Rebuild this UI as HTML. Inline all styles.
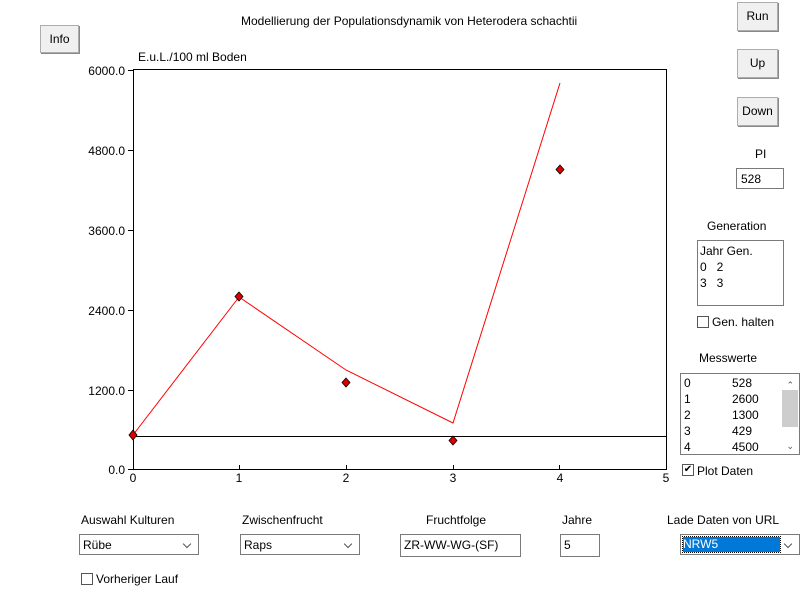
<!DOCTYPE html>
<html><head><meta charset="utf-8"><style>
body{margin:0;width:800px;height:600px;background:#fff;position:relative;overflow:hidden;font-family:"Liberation Sans",Arial,sans-serif;font-size:12px;color:#000}
.a{position:absolute;white-space:nowrap}
.btn{position:absolute;background:#f0f0f0;border:1px solid #adadad;box-shadow:1px 1px 0 #888;text-align:center;font-size:12px}
.box{position:absolute;border:1px solid #7a7a7a;background:#fff}
.cb{position:absolute;width:10px;height:10px;border:1px solid #555;background:#fff}
.sel{position:absolute;border:1px solid #7a7a7a;background:#fff;height:21px;line-height:21px;padding-left:3px;box-sizing:border-box;font-size:12px}
.sel:after{content:"";position:absolute;right:8px;top:6px;width:5px;height:5px;border-right:1px solid #555;border-bottom:1px solid #555;transform:rotate(45deg)}
</style></head><body>
<div class="a" style="left:241px;top:14px">Modellierung der Populationsdynamik von Heterodera schachtii</div>
<div class="btn" style="left:40px;top:25px;width:37px;height:26px;line-height:26px">Info</div>
<div class="btn" style="left:737px;top:2px;width:39px;height:27px;line-height:27px">Run</div>
<div class="btn" style="left:737px;top:49px;width:39px;height:27px;line-height:27px">Up</div>
<div class="btn" style="left:737px;top:97px;width:39px;height:27px;line-height:27px">Down</div>
<div class="a" style="left:138px;top:50px">E.u.L./100 ml Boden</div>
<svg class="a" style="left:0;top:0" width="800" height="600">
<g stroke="#000" fill="none">
<rect x="133.5" y="69.5" width="533" height="400"/>
<line x1="133" y1="436.5" x2="667" y2="436.5"/>
<g>
<line x1="128" y1="70.5" x2="133" y2="70.5"/><line x1="128" y1="150.5" x2="133" y2="150.5"/><line x1="128" y1="230.5" x2="133" y2="230.5"/><line x1="128" y1="310.5" x2="133" y2="310.5"/><line x1="128" y1="390.5" x2="133" y2="390.5"/><line x1="128" y1="469.5" x2="133" y2="469.5"/>
<line x1="239.5" y1="465" x2="239.5" y2="470"/><line x1="346.5" y1="465" x2="346.5" y2="470"/><line x1="453.5" y1="465" x2="453.5" y2="470"/><line x1="559.5" y1="465" x2="559.5" y2="470"/>
</g></g>
<polyline fill="none" stroke="#f00" points="133,435 239,297 346,370 453,423 560,83"/>
<g fill="#d00" stroke="#000" stroke-width="0.8">
<polygon points="133,430 137,435 133,440 129,435"/>
<polygon points="239,292 243,296.5 239,301 235,296.5"/>
<polygon points="346,378 350,382.5 346,387 342,382.5"/>
<polygon points="453,436 457,440.5 453,445 449,440.5"/>
<polygon points="560,165 564,169.5 560,174 556,169.5"/>
</g>
<g font-family="Liberation Sans,Arial,sans-serif" font-size="12" text-anchor="end">
<text x="125" y="75">6000.0</text><text x="125" y="155">4800.0</text><text x="125" y="235">3600.0</text><text x="125" y="315">2400.0</text><text x="125" y="395">1200.0</text><text x="125" y="474">0.0</text>
</g>
<g font-family="Liberation Sans,Arial,sans-serif" font-size="12" text-anchor="middle">
<text x="133" y="482">0</text><text x="239" y="482">1</text><text x="346" y="482">2</text><text x="453" y="482">3</text><text x="560" y="482">4</text><text x="666" y="482">5</text>
</g>
</svg>
<div class="a" style="left:755px;top:147px">PI</div>
<div class="box" style="left:736px;top:168px;width:48px;height:21px;line-height:21px;padding-left:4px;box-sizing:border-box">528</div>
<div class="a" style="left:707px;top:219px">Generation</div>
<div class="box" style="left:697px;top:240px;width:87px;height:66px;box-sizing:border-box;padding:2px;line-height:16px">Jahr Gen.<br>0&nbsp;&nbsp; 2<br>3&nbsp;&nbsp; 3</div>
<div class="cb" style="left:697px;top:316px"></div>
<div class="a" style="left:712px;top:315px">Gen. halten</div>
<div class="a" style="left:699px;top:351px">Messwerte</div>
<div class="box" style="left:680px;top:373px;width:120px;height:82px;box-sizing:border-box;padding:1px 2px;line-height:16px">
<div style="position:absolute;left:3px;top:1px">0<br>1<br>2<br>3<br>4</div>
<div style="position:absolute;left:51px;top:1px">528<br>2600<br>1300<br>429<br>4500</div>
<div style="position:absolute;right:1px;top:16px;width:16px;height:37px;background:#cdcdcd"></div>
<div style="position:absolute;right:5px;top:3px;font-size:9px;color:#555">&#8963;</div>
<div style="position:absolute;right:5px;top:64px;font-size:9px;color:#555">&#8964;</div>
</div>
<div class="cb" style="left:682px;top:464px;font-size:10px;line-height:10px;text-align:center">&#10004;</div>
<div class="a" style="left:697px;top:464px">Plot Daten</div>
<div class="a" style="left:81px;top:513px">Auswahl Kulturen</div>
<div class="a" style="left:242px;top:513px">Zwischenfrucht</div>
<div class="a" style="left:426px;top:513px">Fruchtfolge</div>
<div class="a" style="left:562px;top:513px">Jahre</div>
<div class="a" style="left:667px;top:513px">Lade Daten von URL</div>
<div class="sel" style="left:79px;top:534px;width:120px">Rübe</div>
<div class="sel" style="left:240px;top:534px;width:120px">Raps</div>
<div class="box" style="left:400px;top:534px;width:121px;height:23px;line-height:21px;padding-left:3px;box-sizing:border-box">ZR-WW-WG-(SF)</div>
<div class="box" style="left:560px;top:534px;width:40px;height:23px;line-height:21px;padding-left:3px;box-sizing:border-box">5</div>
<div class="sel" style="left:680px;top:534px;width:120px;padding:2px"><span style="display:block;background:#0078d7;color:#fff;height:15px;line-height:15px;width:97px;outline:1px dotted #000">NRW5</span></div>
<div class="cb" style="left:81px;top:573px"></div>
<div class="a" style="left:96px;top:572px">Vorheriger Lauf</div>
</body></html>
